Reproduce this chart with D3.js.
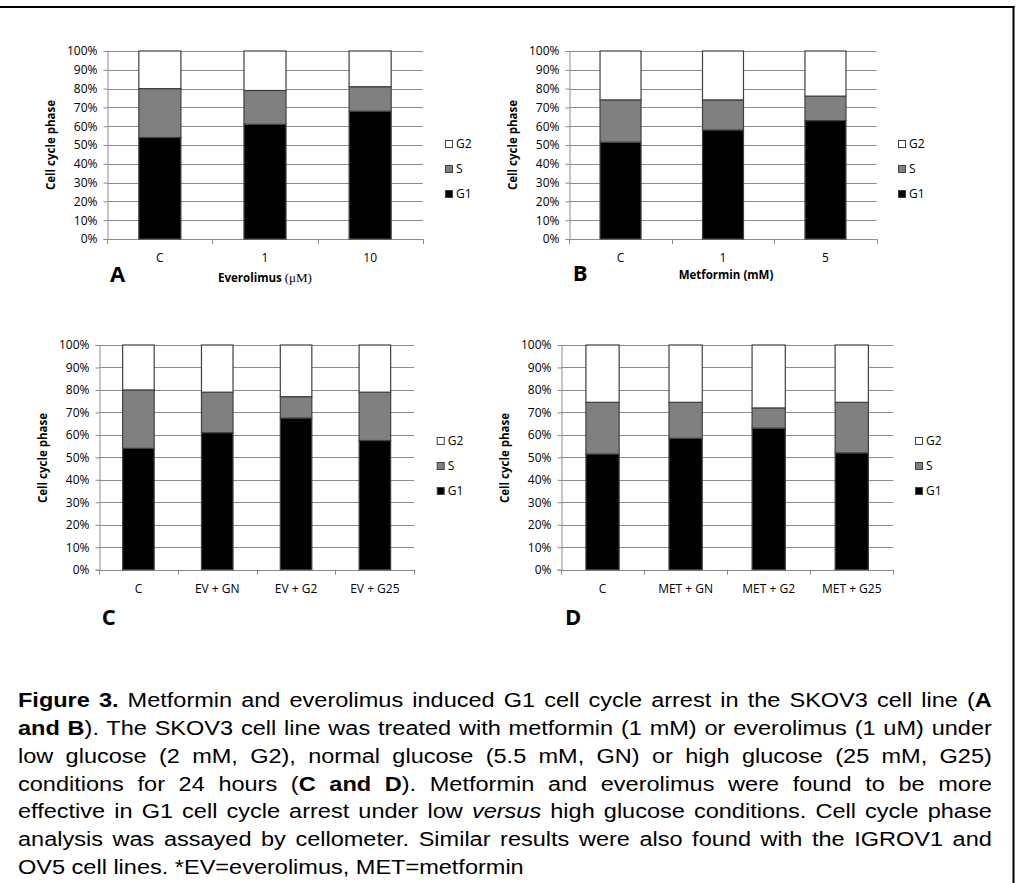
<!DOCTYPE html>
<html>
<head>
<meta charset="utf-8">
<script src="https://cdn.jsdelivr.net/npm/d3@7"></script>
<style>
body { margin: 0; background: #fff; }
#wrap { position: relative; width: 1018px; height: 883px; overflow: hidden; }
#chart { position: absolute; left: 0; top: 0; }
/* caption glyphs in the original are stretched sideways, hence scaleX */
#caption { position: absolute; left: 18px; top: 687.4px; width: 811.5px;
  transform: scaleX(1.2); transform-origin: 0 0;
  font-family: "Liberation Sans", Arial, sans-serif; font-size: 19.6px;
  line-height: 27.7px; color: #000; }
#caption .ln { text-align: justify; text-align-last: justify; }
#caption .last { text-align: left; text-align-last: left; }
</style>
</head>
<body>
<div id="wrap">
  <svg id="chart" width="1018" height="883"></svg>
  <div id="caption"></div>
</div>
<script>
// data (percent of cells per phase)
var phases = ["G1", "S", "G2"];
var phaseColor = {G1: "#000000", S: "#808080", G2: "#ffffff"};

var catsA = ["C", "1", "10"];
var g1A = [54, 61, 68];
var sA  = [26, 18, 13];
var g2A = [20, 21, 19];

var catsB = ["C", "1", "5"];
var g1B = [51.5, 58, 63];
var sB  = [22.5, 16, 13];
var g2B = [26, 26, 24];

var catsC = ["C", "EV + GN", "EV + G2", "EV + G25"];
var g1C = [54, 61, 67.5, 57.5];
var sC  = [26, 18, 9.5, 21.5];
var g2C = [20, 21, 23, 21];

var catsD = ["C", "MET + GN", "MET + G2", "MET + G25"];
var g1D = [51.5, 58.5, 63, 52];
var sD  = [23, 16, 9, 22.5];
var g2D = [25.5, 25.5, 28, 25.5];

var yTicks = [0, 10, 20, 30, 40, 50, 60, 70, 80, 90, 100];

var svg = d3.select("#chart");
var tickFont = "'Open Sans', sans-serif";

// frame
svg.append("line").attr("x1", 0).attr("x2", 1014.5).attr("y1", 7).attr("y2", 7)
  .attr("stroke", "#000").attr("stroke-width", 2);
svg.append("line").attr("x1", 1013.5).attr("x2", 1013.5).attr("y1", 6).attr("y2", 883)
  .attr("stroke", "#000").attr("stroke-width", 2);

var panels = [
  {cats: catsA, g1: g1A, s: sA, g2: g2A, x0: 107.3, x1: 422.7, yTop: 51, yBot: 239,
   titleX: 50.7, titleY: 145, legX: 445, legY: 144, catY: 261.5,
   letter: "A", letterX: 110, letterY: 282, xTitle: ["Everolimus ", "(\u03bcM)"], xTitleX: 265, xTitleY: 282},
  {cats: catsB, g1: g1B, s: sB, g2: g2B, x0: 569.3, x1: 876.7, yTop: 51, yBot: 239,
   titleX: 513.3, titleY: 145, legX: 898, legY: 144, catY: 261.5,
   letter: "B", letterX: 572.7, letterY: 281, xTitle: ["Metformin (mM)"], xTitleX: 726, xTitleY: 278.5},
  {cats: catsC, g1: g1C, s: sC, g2: g2C, x0: 99, x1: 414.3, yTop: 345, yBot: 569.7,
   titleX: 43.3, titleY: 458, legX: 436.7, legY: 441, catY: 592.5,
   letter: "C", letterX: 101.7, letterY: 625},
  {cats: catsD, g1: g1D, s: sD, g2: g2D, x0: 561, x1: 893.3, yTop: 345, yBot: 569.7,
   titleX: 505, titleY: 458, legX: 915, legY: 441, catY: 592.5,
   letter: "D", letterX: 565, letterY: 625}
];

panels.forEach(drawPanel);

function drawPanel(p) {
  var g = svg.append("g");
  var rows = p.cats.map(function(c, i) {
    return {cat: c, G1: p.g1[i], S: p.s[i], G2: p.g2[i]};
  });

  var x = d3.scaleBand().domain(p.cats).range([p.x0, p.x1])
    .paddingInner(0.6).paddingOuter(0.3);
  var y = d3.scaleLinear().domain([0, 100]).range([p.yBot, p.yTop]);

  // gridlines
  g.selectAll("line.grid").data(yTicks.slice(1)).enter().append("line")
    .attr("class", "grid")
    .attr("x1", p.x0).attr("x2", p.x1)
    .attr("y1", function(d) { return Math.round(y(d)) + 0.5; })
    .attr("y2", function(d) { return Math.round(y(d)) + 0.5; })
    .attr("stroke", "#8c8c8c").attr("stroke-width", 1);

  // y axis
  var yAxis = d3.axisLeft(y).tickValues(yTicks).tickSize(4).tickPadding(6)
    .tickFormat(function(d) { return d + "%"; });
  var ya = g.append("g").attr("transform", "translate(" + (Math.round(p.x0) + 0.5) + ",0)").call(yAxis);
  ya.select(".domain").attr("stroke", "#8c8c8c");
  ya.selectAll(".tick line").attr("stroke", "#8c8c8c");
  ya.selectAll(".tick text").attr("font-family", tickFont).attr("font-size", 12).attr("fill", "#000");

  // x axis line + boundary ticks
  var bounds = d3.range(p.cats.length + 1).map(function(i) { return p.x0 + i * (p.x1 - p.x0) / p.cats.length; });
  g.append("line").attr("x1", p.x0).attr("x2", p.x1)
    .attr("y1", Math.round(y(0)) + 0.5).attr("y2", Math.round(y(0)) + 0.5)
    .attr("stroke", "#8c8c8c");
  g.selectAll("line.xt").data(bounds).enter().append("line")
    .attr("class", "xt")
    .attr("x1", function(d) { return Math.round(d) + 0.5; })
    .attr("x2", function(d) { return Math.round(d) + 0.5; })
    .attr("y1", y(0)).attr("y2", y(0) + 5)
    .attr("stroke", "#8c8c8c");

  // stacked bars
  var series = d3.stack().keys(phases)(rows);
  g.selectAll("g.layer").data(series).enter().append("g")
    .attr("class", "layer")
    .attr("fill", function(d) { return phaseColor[d.key]; })
    .selectAll("rect").data(function(d) { return d; }).enter().append("rect")
    .attr("x", function(d) { return x(d.data.cat); })
    .attr("width", x.bandwidth())
    .attr("y", function(d) { return y(d[1]); })
    .attr("height", function(d) { return y(d[0]) - y(d[1]); })
    .attr("stroke", "#404040").attr("stroke-width", 1.2);

  // category labels
  g.selectAll("text.cat").data(p.cats).enter().append("text")
    .attr("class", "cat")
    .attr("x", function(d) { return x(d) + x.bandwidth() / 2; })
    .attr("y", p.catY)
    .attr("text-anchor", "middle")
    .attr("font-family", tickFont).attr("font-size", 12)
    .text(function(d) { return d; });

  // y title
  g.append("text")
    .attr("transform", "translate(" + p.titleX + "," + p.titleY + ") rotate(-90)")
    .attr("dy", "0.35em")
    .attr("text-anchor", "middle")
    .attr("font-family", tickFont).attr("font-size", 11.5).attr("font-weight", "bold")
    .text("Cell cycle phase");

  // legend (G2 on top)
  var leg = phases.slice().reverse();
  var lg = g.selectAll("g.leg").data(leg).enter().append("g")
    .attr("class", "leg")
    .attr("transform", function(d, i) { return "translate(" + p.legX + "," + (p.legY + i * 25) + ")"; });
  lg.append("rect").attr("x", 0.5).attr("y", -3.5).attr("width", 7).attr("height", 7)
    .attr("fill", function(d) { return phaseColor[d]; })
    .attr("stroke", "#404040").attr("stroke-width", 1);
  lg.append("text").attr("x", 11).attr("dy", "0.35em")
    .attr("font-family", tickFont).attr("font-size", 12)
    .text(function(d) { return d; });

  // panel letter
  g.append("text").attr("x", p.letterX).attr("y", p.letterY)
    .attr("font-family", tickFont).attr("font-size", 22).attr("font-weight", "bold")
    .text(p.letter);

  if (p.xTitle) {
    var t = g.append("text").attr("x", p.xTitleX).attr("y", p.xTitleY)
      .attr("text-anchor", "middle")
      .attr("font-family", tickFont).attr("font-size", 11.5).attr("font-weight", "bold");
    t.append("tspan").text(p.xTitle[0]);
    if (p.xTitle[1]) {
      // the unit is set in a serif face in the original
      t.append("tspan").attr("font-family", "'Liberation Serif', serif")
        .attr("font-size", 13).attr("font-weight", "normal").text(p.xTitle[1]);
    }
  }
}

// caption, one div per printed line
var captionLines = [
  "<b>Figure 3.</b> Metformin and everolimus induced G1 cell cycle arrest in the SKOV3 cell line (<b>A</b>",
  "<b>and B</b>). The SKOV3 cell line was treated with metformin (1 mM) or everolimus (1 uM) under",
  "low glucose (2 mM, G2), normal glucose (5.5 mM, GN) or high glucose (25 mM, G25)",
  "conditions for 24 hours (<b>C and D</b>). Metformin and everolimus were found to be more",
  "effective in G1 cell cycle arrest under low <i>versus</i> high glucose conditions. Cell cycle phase",
  "analysis was assayed by cellometer. Similar results were also found with the IGROV1 and",
  "OV5 cell lines. *EV=everolimus, MET=metformin"
];
d3.select("#caption").selectAll("div").data(captionLines).enter().append("div")
  .attr("class", function(d, i) { return i === captionLines.length - 1 ? "ln last" : "ln"; })
  .html(function(d) { return d; });
</script>
</body>
</html>
